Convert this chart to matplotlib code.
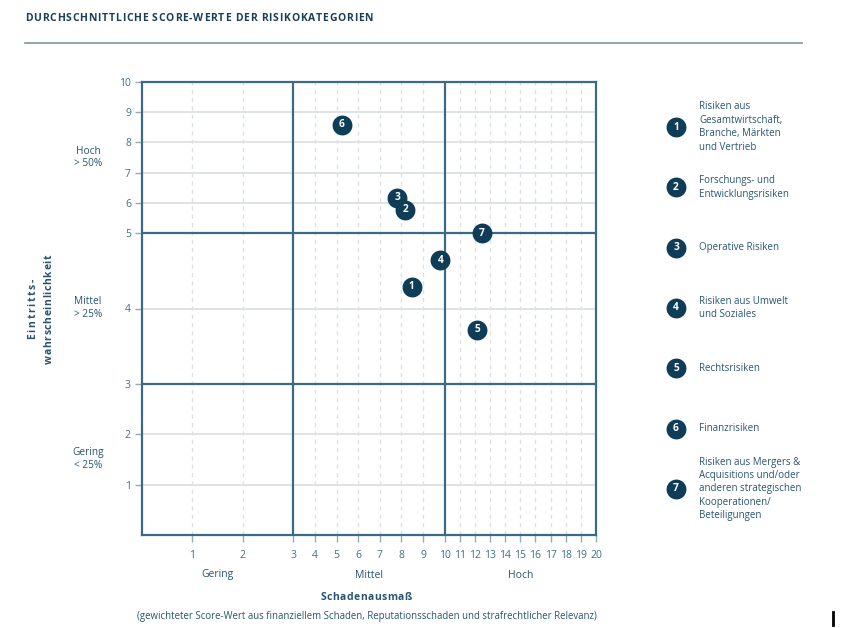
import numpy as np
import matplotlib
matplotlib.use("Agg")
import matplotlib.pyplot as plt
from matplotlib.font_manager import FontProperties, findfont, get_font

# ---------------- data ----------------
risk_ids = [1, 2, 3, 4, 5, 6, 7]
schadenausmass = [8.48, 8.17, 7.80, 9.80, 12.16, 5.24, 12.47]
eintritt = [4.29, 5.77, 6.17, 4.64, 3.72, 8.58, 5.00]
legend_labels = [
    "Risiken aus\nGesamtwirtschaft,\nBranche, Märkten\nund Vertrieb",
    "Forschungs- und\nEntwicklungsrisiken",
    "Operative Risiken",
    "Risiken aus Umwelt\nund Soziales",
    "Rechtsrisiken",
    "Finanzrisiken",
    "Risiken aus Mergers &\nAcquisitions und/oder\nanderen strategischen\nKooperationen/\nBeteiligungen",
]
x_ticks = list(range(1, 21))
y_ticks = list(range(1, 11))
x_bounds = [3, 10]
y_bounds = [3, 5]
x_cat_labels = ["Gering", "Mittel", "Hoch"]
y_cat_labels = ["Gering\n< 25%", "Mittel\n> 25%", "Hoch\n> 50%"]
title = "DURCHSCHNITTLICHE SCORE-WERTE DER RISIKOKATEGORIEN"
x_title = "Schadenausmaß"
y_title = ["Eintritts-", "wahrscheinlichkeit"]
footnote = "(gewichteter Score-Wert aus finanziellem Schaden, Reputationsschaden und strafrechtlicher Relevanz)"

# ---------------- style ----------------
W, H = 841, 628
FAM = "Open Sans"
NAVY = "#0f3d58"
FRAME = "#3b6a84"
GRID = "#dde1e4"
TICKC = "#93aab8"
TICKLAB = "#3f6f8a"
TXT = "#285571"
TITLEC = "#1b3e57"

plt.rcParams["font.family"] = [FAM, "DejaVu Sans"]

fig = plt.figure(figsize=(W / 100, H / 100), dpi=100)
fig.patch.set_facecolor("white")

# axes placement in pixels
L, R, T, B = 142, 596, 82, 535
ax = fig.add_axes([L / W, 1 - B / H, (R - L) / W, (B - T) / H])


def piecewise(xp, fp):
    xp = np.asarray(xp, float)
    fp = np.asarray(fp, float)

    def make(a, b):
        s_lo = (b[1] - b[0]) / (a[1] - a[0])
        s_hi = (b[-1] - b[-2]) / (a[-1] - a[-2])

        def f(v):
            v = np.asarray(v, float)
            out = np.interp(v, a, b)
            out = np.where(v < a[0], b[0] + (v - a[0]) * s_lo, out)
            out = np.where(v > a[-1], b[-1] + (v - a[-1]) * s_hi, out)
            return out
        return f
    return make(xp, fp), make(fp, xp)


ax.set_xscale("function", functions=piecewise([0, 3, 10, 20], [0, 1, 2, 3]))
ax.set_yscale("function", functions=piecewise([0, 3, 5, 10], [0, 1, 2, 3]))
ax.set_xlim(0, 20)
ax.set_ylim(0, 10)

# grid
for xv in x_ticks:
    if xv not in x_bounds and xv != 20:
        ax.axvline(xv, color=GRID, lw=1.0, ls=(0, (3, 3)), zorder=1)
for yv in y_ticks:
    if yv not in y_bounds and yv != 10:
        ax.axhline(yv, color=GRID, lw=1.3, zorder=1)
for xv in x_bounds:
    ax.axvline(xv, color=FRAME, lw=1.6, zorder=2)
for yv in y_bounds:
    ax.axhline(yv, color=FRAME, lw=1.6, zorder=2)

for sp in ax.spines.values():
    sp.set_color(FRAME)
    sp.set_linewidth(1.6)

ax.set_xticks(x_ticks)
ax.set_xticklabels([str(v) for v in x_ticks])
ax.set_yticks(y_ticks)
ax.set_yticklabels([str(v) for v in y_ticks])
ax.minorticks_off()
ax.tick_params(axis="both", direction="out", length=5, width=1.0, color=TICKC,
               labelcolor=TICKLAB, labelsize=7.5)
ax.tick_params(axis="x", pad=5.5)
ax.tick_params(axis="y", pad=3)

# points
ax.scatter(schadenausmass, eintritt, s=205, color=NAVY, zorder=5, linewidths=0)
for i, xv, yv in zip(risk_ids, schadenausmass, eintritt):
    ax.text(xv, yv, str(i), ha="center", va="center", color="white",
            fontsize=7.3, fontweight="bold", zorder=6)

# overlay axes in pixel coordinates for annotations
ov = fig.add_axes([0, 0, 1, 1], facecolor="none")
ov.set_xlim(0, W)
ov.set_ylim(H, 0)
ov.axis("off")


def spaced(s, x, y, size, target, color, ha="left", vertical=False, weight="bold"):
    fp = FontProperties(family=FAM, weight=weight, size=size)
    font = get_font(findfont(fp))
    font.set_size(size, 100)
    adv = [font.load_char(ord(c)).linearHoriAdvance / 65536 for c in s]
    n = len(s)
    spacing = (target - sum(adv)) / (n - 1) if n > 1 else 0
    total = sum(adv) + spacing * (n - 1)
    pos = 0.0
    if ha == "center":
        pos = -total / 2
    for c, a in zip(s, adv):
        if vertical:
            ov.text(x, y - pos, c, fontproperties=fp, color=color, rotation=90,
                    rotation_mode="anchor", ha="left", va="baseline")
        else:
            ov.text(x + pos, y, c, fontproperties=fp, color=color,
                    ha="left", va="baseline")
        pos += a + spacing


# title & rule
spaced(title, 25, 20.7, 7.5, 348, TITLEC)
ov.plot([25, 802], [42.5, 42.5], color="#7893a5", lw=1.2)

# x axis category labels
region_cx = [(L + 293) / 2, (293 + 445) / 2, (445 + R) / 2]
for cx, lab in zip(region_cx, x_cat_labels):
    ov.text(cx, 575, lab, ha="center", va="center", color=TXT, fontsize=7.5)
spaced(x_title, 366, 600, 7.5, 91, TXT, ha="center")
ov.text(367, 617, footnote, ha="center", va="center", color=TXT, fontsize=6.95)

# y axis category labels
region_cy = [(B + 383) / 2, (383 + 233) / 2, (233 + T) / 2]
for cy, lab in zip(region_cy, y_cat_labels):
    ov.text(88, cy, lab, ha="center", va="center", color=TXT, fontsize=7.3,
            linespacing=1.15)
spaced(y_title[0], 35.5, 309, 7.5, 60, TXT, ha="center", vertical=True)
spaced(y_title[1], 51.5, 309, 7.5, 109, TXT, ha="center", vertical=True)

# legend
leg_y0, leg_step = 127, 60.33
for k, (i, lab) in enumerate(zip(risk_ids, legend_labels)):
    yy = leg_y0 + k * leg_step
    ov.scatter([676], [yy], s=205, color=NAVY, linewidths=0, zorder=5)
    ov.text(676, yy, str(i), ha="center", va="center", color="white",
            fontsize=7.3, fontweight="bold", zorder=6)
    ov.text(699, yy, lab, ha="left", va="center", color=TXT, fontsize=7,
            linespacing=1.3)

# small cursor mark at bottom right
ov.plot([833, 833], [612, 625], color="black", lw=2)

fig.savefig("out.png", dpi=100, facecolor="white")
